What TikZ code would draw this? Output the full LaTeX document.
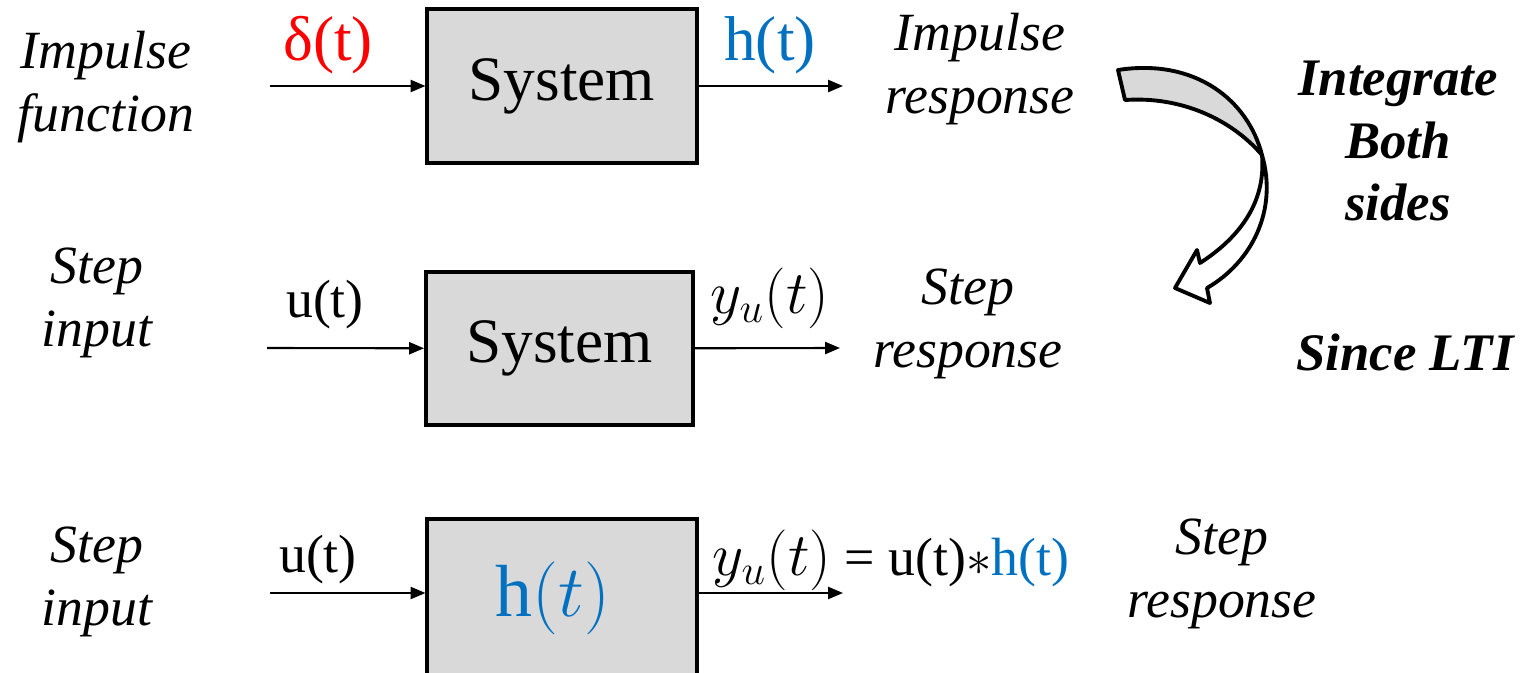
\documentclass[tikz,border=0pt]{standalone}
\usepackage{fontspec}
\setmainfont{Liberation Serif}
\usepackage{tikz}
\usetikzlibrary{arrows.meta,positioning}
\definecolor{hblue}{HTML}{0070C0}
\definecolor{dred}{HTML}{FF0000}
\definecolor{boxgray}{HTML}{D9D9D9}
\tikzset{
  sysbox/.style={draw=black, line width=1.1pt, fill=boxgray, minimum width=2.69cm, minimum height=1.54cm, font=\fontsize{18}{20}\selectfont},
  flow/.style={-{Triangle[length=4.2pt,width=3.4pt]}, draw=black, line width=0.6pt},
  lbl/.style={font=\fontsize{15.3}{17.9}\selectfont\itshape, align=center},
  blbl/.style={font=\fontsize{15}{17.9}\selectfont\bfseries\itshape, align=center},
  sig/.style={font=\fontsize{18}{20}\selectfont},
  insig/.style={font=\fontsize{15.3}{18}\selectfont},
  curvearrow/.style={draw=black, line width=1.1pt, line join=round},
}

\begin{document}
\begin{tikzpicture}[x=0.01cm, y=-0.01cm]
\useasboundingbox (0,0) rectangle (1532,672);
% impulse row
\node[lbl] (imp) at (106,87) {Impulse\\function};
\node[sysbox] (sys1) at (562,86) {System};
\coordinate (in1) at (270,86);
\coordinate (out1) at (843,86);
\draw[flow] (in1) -- (sys1);
\draw[flow] (sys1) -- (out1);
\node[sig, text=dred] (d1) at (328,45) {δ(t)};
\node[sig, text=hblue] (h1) at (770,45) {h(t)};
\node[lbl] (impr) at (980,69) {Impulse\\response};
% step row
\node[lbl] (stepin1) at (97,303) {Step\\input};
\node[sysbox, minimum width=2.67cm, minimum height=1.53cm] (sys2) at (559.5,348.5) {System};
\coordinate (in2) at (267,348);
\coordinate (out2) at (840,348);
\draw[flow] (in2) -- (sys2);
\draw[flow] (sys2) -- (out2);
\node[insig] (u2) at (325,305) {u(t)};
\node[sig] (y2) at (770,298) {$y_u(t)$};
\node[lbl] (stepr1) at (968,324) {Step\\response};
% convolution row
\node[lbl] (stepin2) at (97,582) {Step\\input};
\node[sysbox, anchor=north, minimum height=1.6cm] (sys3) at (562,517) {};
\node[text=hblue, font=\fontsize{21}{24}\selectfont] (h3) at (553,598) {$\mathrm{h}(t)$};
\coordinate (in3) at (270,593);
\coordinate (out3) at (843,593);
\draw[flow] (in3) -- (in3 -| sys3.west);
\draw[flow] (out3 -| sys3.east) -- (out3);
\node[insig] (u3) at (318,560) {u(t)};
\node[insig, anchor=west, inner sep=0pt] (y3) at (712,560)
  {{\fontsize{18}{20}\selectfont$y_u(t)$} = u(t)$\ast$\textcolor{hblue}{h(t)}};
\node[lbl] (stepr2) at (1222,574) {Step\\response};
% curved arrow and note
\draw[curvearrow, fill=boxgray] (1118,70) .. controls (1195,58) and (1248,100) .. (1262,155)
  .. controls (1232,120) and (1182,96) .. (1125,100) -- cycle;
\draw[curvearrow, fill=white] (1262,155) .. controls (1278,210) and (1252,262) .. (1207,288)
  -- (1210,303) -- (1175,288) -- (1197,250) -- (1200,263)
  .. controls (1242,236) and (1266,200) .. (1262,155) -- cycle;
\node[blbl] (integ) at (1398,141) {Integrate\\Both\\sides};
\node[blbl] (lti) at (1405,352) {Since LTI};
\end{tikzpicture}
\end{document}
